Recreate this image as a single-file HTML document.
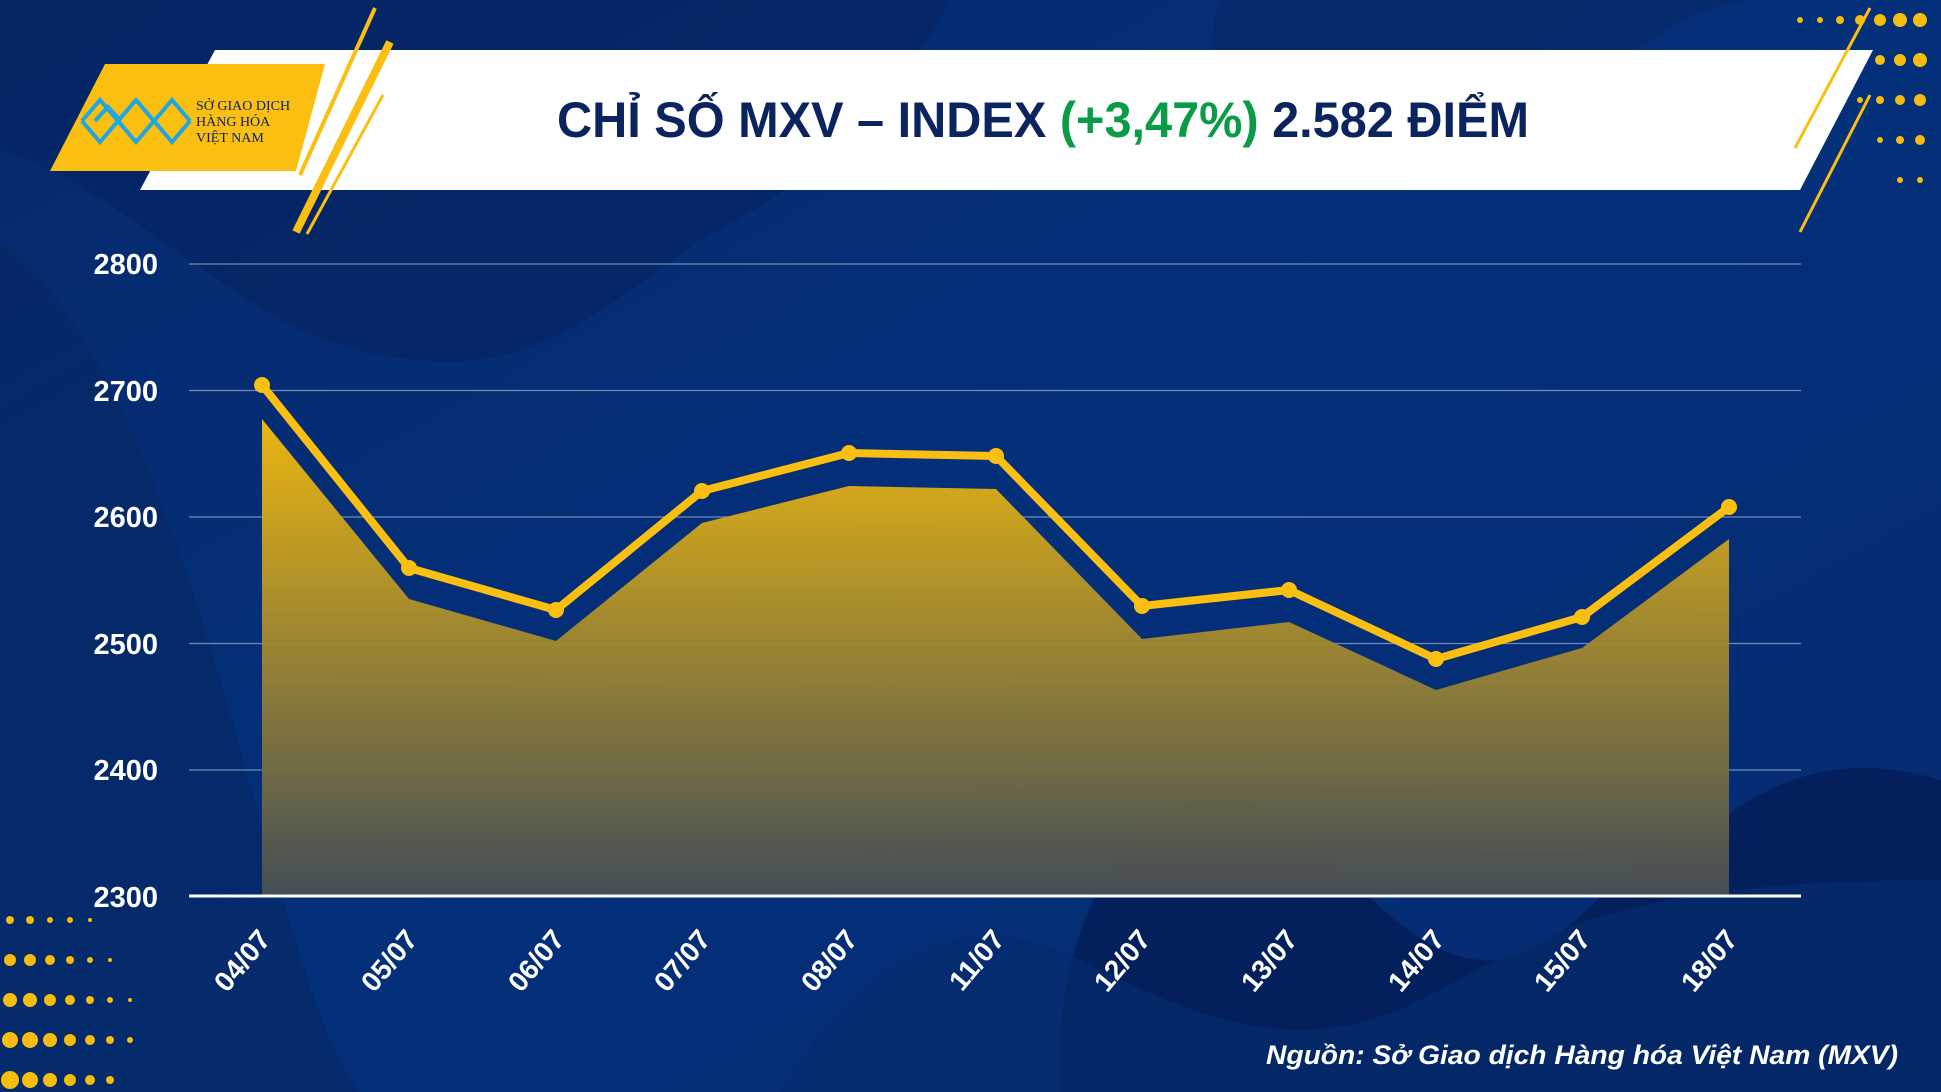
<!DOCTYPE html>
<html><head><meta charset="utf-8"><style>
html,body{margin:0;padding:0;background:#042c74;}
svg{display:block}
</style></head><body>
<svg width="1941" height="1092" viewBox="0 0 1941 1092" xmlns="http://www.w3.org/2000/svg" font-family="'Liberation Sans', 'Noto Sans CJK SC', sans-serif">
<defs>
<linearGradient id="ag" x1="0" y1="0" x2="0" y2="1">
<stop offset="0" stop-color="#f6bd0c"/>
<stop offset="1" stop-color="#474f55"/>
</linearGradient>
<linearGradient id="bg" x1="0" y1="0" x2="1" y2="1">
<stop offset="0" stop-color="#06296c"/>
<stop offset="0.5" stop-color="#04307a"/>
<stop offset="1" stop-color="#052a70"/>
</linearGradient>
</defs>
<rect width="1941" height="1092" fill="url(#bg)"/>
<path d="M0 0 H950 C900 100 820 180 700 240 C580 330 520 370 420 360 C300 350 250 300 160 240 C90 190 40 160 0 150 Z" fill="#062562" opacity="0.7"/>
<path d="M1220 0 C1200 60 1220 120 1300 160 C1400 200 1500 150 1580 90 C1650 40 1700 0 1760 0 Z" fill="#062562" opacity="0.5"/>
<path d="M0 240 C120 330 200 600 260 820 C300 960 330 1060 360 1092 H0 Z" fill="#052660" opacity="0.5"/>
<path d="M1060 1092 C1050 900 1150 780 1240 800 C1330 820 1380 950 1480 960 C1580 970 1650 800 1720 820 C1800 760 1870 760 1941 780 V1092 Z" fill="#041f58" opacity="0.85"/>
<path d="M780 1092 C860 960 960 900 1080 960 C1200 1020 1300 1060 1420 1000 C1540 940 1600 880 1941 880 V1092 Z" fill="#062b6e" opacity="0.7"/>
<g fill="#f6bd0c">
<circle cx="1900" cy="20" r="7"/><circle cx="1920" cy="20" r="7"/><circle cx="1880" cy="20" r="6"/><circle cx="1860" cy="20" r="5"/><circle cx="1840" cy="20" r="4"/><circle cx="1820" cy="20" r="3"/><circle cx="1800" cy="20" r="3"/>
<circle cx="1900" cy="60" r="6"/><circle cx="1920" cy="60" r="7"/><circle cx="1880" cy="60" r="5"/><circle cx="1860" cy="60" r="4"/><circle cx="1840" cy="60" r="3"/><circle cx="1820" cy="60" r="2"/>
<circle cx="1900" cy="100" r="5"/><circle cx="1920" cy="100" r="6"/><circle cx="1880" cy="100" r="4"/><circle cx="1860" cy="100" r="3"/>
<circle cx="1900" cy="140" r="4"/><circle cx="1920" cy="140" r="5"/><circle cx="1880" cy="140" r="3"/>
<circle cx="1900" cy="180" r="3"/><circle cx="1920" cy="180" r="3"/>
<circle cx="10" cy="1000" r="7"/><circle cx="30" cy="1000" r="7"/><circle cx="50" cy="1000" r="6"/><circle cx="70" cy="1000" r="5"/><circle cx="90" cy="1000" r="4"/><circle cx="110" cy="1000" r="3"/><circle cx="130" cy="1000" r="2"/>
<circle cx="10" cy="1040" r="8"/><circle cx="30" cy="1040" r="8"/><circle cx="50" cy="1040" r="7"/><circle cx="70" cy="1040" r="6"/><circle cx="90" cy="1040" r="5"/><circle cx="110" cy="1040" r="4"/><circle cx="130" cy="1040" r="3"/>
<circle cx="10" cy="1080" r="9"/><circle cx="30" cy="1080" r="8"/><circle cx="50" cy="1080" r="7"/><circle cx="70" cy="1080" r="6"/><circle cx="90" cy="1080" r="5"/><circle cx="110" cy="1080" r="4"/>
<circle cx="10" cy="960" r="6"/><circle cx="30" cy="960" r="6"/><circle cx="50" cy="960" r="5"/><circle cx="70" cy="960" r="4"/><circle cx="90" cy="960" r="3"/><circle cx="110" cy="960" r="2"/>
<circle cx="10" cy="920" r="4"/><circle cx="30" cy="920" r="4"/><circle cx="50" cy="920" r="3"/><circle cx="70" cy="920" r="3"/><circle cx="90" cy="920" r="2"/>
</g>
<polygon points="215,50 1873,50 1800,190 140,190" fill="#ffffff"/>
<polygon points="105,64 325,64 296,171 50,171" fill="#fbbf12"/>
<line x1="375" y1="8" x2="300" y2="175" stroke="#fbbf12" stroke-width="4"/>
<line x1="390" y1="42" x2="296" y2="232" stroke="#fbbf12" stroke-width="8"/>
<line x1="383" y1="95" x2="307" y2="234" stroke="#fbbf12" stroke-width="3"/>
<line x1="1870" y1="8" x2="1795" y2="148" stroke="#fbbf12" stroke-width="3"/>
<line x1="1870" y1="95" x2="1800" y2="232" stroke="#fbbf12" stroke-width="3"/>
<g fill="none" stroke="#1ea7e0" stroke-width="4">
<path d="M82 121 L100 100 L118 121 L136 100 L154 121 L172 100 L190 121"/>
<path d="M95 121 L108 107 L121 121"/>
<path d="M82 121 L100 142 L118 121 L136 142 L154 121 L172 142 L190 121"/>
</g>
<text x="196" y="110" font-size="14" fill="#0b2460" font-family="'Liberation Serif',serif">SỞ GIAO DỊCH</text>
<text x="196" y="126" font-size="14" fill="#0b2460" font-family="'Liberation Serif',serif">HÀNG HÓA</text>
<text x="196" y="142" font-size="14" fill="#0b2460" font-family="'Liberation Serif',serif">VIỆT NAM</text>
<text x="557" y="137" font-size="50" font-weight="bold" fill="#0b2460" textLength="972" lengthAdjust="spacingAndGlyphs">CHỈ SỐ MXV – INDEX <tspan fill="#0b9a45">(+3,47%)</tspan> 2.582 ĐIỂM</text>
<g stroke="#8ea3c8" stroke-width="1.2" opacity="0.8">
<line x1="189" y1="264" x2="1801" y2="264"/>
<line x1="189" y1="390.5" x2="1801" y2="390.5"/>
<line x1="189" y1="517" x2="1801" y2="517"/>
<line x1="189" y1="643.5" x2="1801" y2="643.5"/>
<line x1="189" y1="770" x2="1801" y2="770"/>
</g>
<g font-size="29" font-weight="bold" fill="#fff" text-anchor="end">
<text x="158" y="274">2800</text><text x="158" y="401">2700</text><text x="158" y="527">2600</text><text x="158" y="654">2500</text><text x="158" y="780">2400</text><text x="158" y="907">2300</text>
</g>
<polygon fill="url(#ag)" opacity="0.95" points="262,896 262,419 409,599 556,641 702,523 849,486 996,489 1142,639 1289,622 1436,690 1582,648 1729,539 1729,896"/>
<line x1="189" y1="896" x2="1801" y2="896" stroke="#fff" stroke-width="3"/>
<polyline fill="none" stroke="#fbbf12" stroke-width="8" stroke-linejoin="round" points="262,385 409,568 556,610 702,491 849,453 996,456 1142,606 1289,590 1436,659 1582,617 1729,507"/>
<g fill="#fbbf12">
<circle cx="262" cy="385" r="8"/><circle cx="409" cy="568" r="8"/><circle cx="556" cy="610" r="8"/><circle cx="702" cy="491" r="8"/><circle cx="849" cy="453" r="8"/><circle cx="996" cy="456" r="8"/><circle cx="1142" cy="606" r="8"/><circle cx="1289" cy="590" r="8"/><circle cx="1436" cy="659" r="8"/><circle cx="1582" cy="617" r="8"/><circle cx="1729" cy="507" r="8"/>
</g>
<g font-size="28" font-weight="bold" fill="#fff" text-anchor="end">
<text transform="translate(272,940) rotate(-50)">04/07</text>
<text transform="translate(419,940) rotate(-50)">05/07</text>
<text transform="translate(566,940) rotate(-50)">06/07</text>
<text transform="translate(712,940) rotate(-50)">07/07</text>
<text transform="translate(859,940) rotate(-50)">08/07</text>
<text transform="translate(1006,940) rotate(-50)">11/07</text>
<text transform="translate(1152,940) rotate(-50)">12/07</text>
<text transform="translate(1299,940) rotate(-50)">13/07</text>
<text transform="translate(1446,940) rotate(-50)">14/07</text>
<text transform="translate(1592,940) rotate(-50)">15/07</text>
<text transform="translate(1739,940) rotate(-50)">18/07</text>
</g>
<text x="1898" y="1064" font-size="27" font-weight="bold" font-style="italic" fill="#fff" text-anchor="end" textLength="632" lengthAdjust="spacingAndGlyphs">Nguồn: Sở Giao dịch Hàng hóa Việt Nam (MXV)</text>
</svg>
</body></html>
